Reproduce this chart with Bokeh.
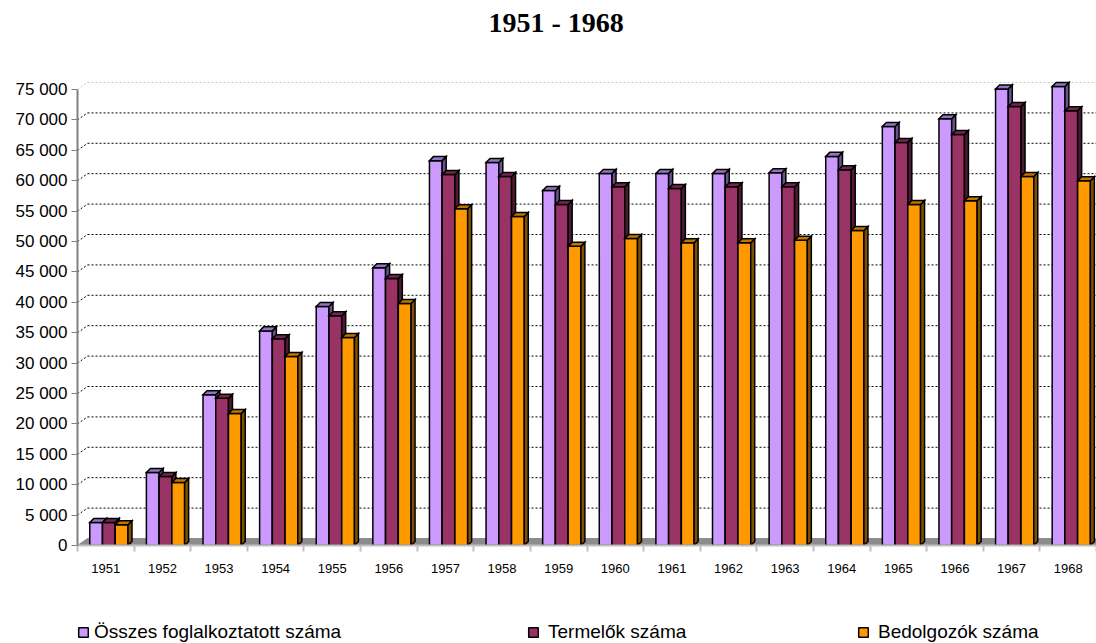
from bokeh.plotting import figure
from bokeh.models import Range1d, FixedTicker, Legend, LegendItem
from bokeh.layouts import column
from bokeh.embed import file_html
from bokeh.resources import INLINE

# ---------------- data ----------------
years = ["1951", "1952", "1953", "1954", "1955", "1956", "1957", "1958", "1959",
         "1960", "1961", "1962", "1963", "1964", "1965", "1966", "1967", "1968"]
osszes = [3800, 12000, 24800, 35300, 39300, 45700, 63300, 63000, 58400,
          61200, 61200, 61200, 61300, 64000, 68900, 70200, 75100, 75500]
termelok = [3800, 11350, 24200, 34000, 37800, 43900, 61000, 60700, 56100,
            59000, 58700, 59000, 59000, 61800, 66300, 67600, 72200, 71500]
bedolgozok = [3400, 10350, 21700, 31100, 34200, 39800, 55400, 54100, 49200,
              50500, 49800, 49800, 50200, 51800, 56100, 56700, 60700, 60000]
series_names = ["Összes foglalkoztatott száma", "Termelők száma", "Bedolgozók száma"]
y_ticks = [0, 5000, 10000, 15000, 20000, 25000, 30000, 35000, 40000,
           45000, 50000, 55000, 60000, 65000, 70000, 75000]
y_tick_labels = ["0", "5 000", "10 000", "15 000", "20 000", "25 000", "30 000",
                 "35 000", "40 000", "45 000", "50 000", "55 000", "60 000",
                 "65 000", "70 000", "75 000"]
title_text = "1951 - 1968"

# ---------------- style ----------------
front_colors = ["#CC99FF", "#993366", "#FF9900"]
side_colors = ["#66528F", "#4D1A33", "#805000"]
top_colors = ["#8F76BF", "#73264D", "#BF7300"]
bar_offsets = [0.217, 0.442, 0.667]
bar_w = 0.225
dxb, dyb = 0.0707, 660      # bar depth (data units)
dxw, dyw = 0.177, 1150      # back wall depth (data units)
n = len(years)
all_series = [osszes, termelok, bedolgozok]

# ---------------- title strip ----------------
tt = figure(width=1096, height=45, x_range=Range1d(0, n), y_range=Range1d(0, 1),
            output_backend="svg", toolbar_location=None,
            x_axis_location=None, y_axis_location=None,
            min_border_left=0, min_border_right=0, min_border_top=0, min_border_bottom=0)
tt.xgrid.visible = False
tt.ygrid.visible = False
tt.outline_line_color = None
tt.title.text = title_text
tt.title.align = "left"
tt.title.offset = 411
tt.title.standoff = 9
tt.title.text_font = "Liberation Serif"
tt.title.text_font_size = "28px"
tt.title.text_font_style = "bold"
tt.title.text_color = "black"

# ---------------- main chart ----------------
p = figure(width=1096, height=565, x_range=Range1d(0, n), y_range=Range1d(0, 76480),
           output_backend="svg", toolbar_location=None,
           min_border_left=77, min_border_right=0, min_border_top=35, min_border_bottom=65)
p.xgrid.visible = False
p.ygrid.visible = False
p.outline_line_color = None
p.background_fill_color = "white"

# back-wall grid lines (from tick values)
for v in y_ticks[1:]:
    col = "#C8C8C8" if v == y_ticks[-1] else "black"
    p.segment(x0=[dxw], y0=[v + dyw], x1=[n], y1=[v + dyw], line_color=col,
              line_width=1, line_dash="2 2")
    p.segment(x0=[0], y0=[v], x1=[dxw], y1=[v + dyw], line_color=col,
              line_width=1, line_dash="2 2")

# floor
p.patch(x=[0, n, n + dxw, dxw], y=[0, 0, dyw, dyw], fill_color="#8C8C8C",
        line_color="#8C8C8C")

# bars with pseudo-3D faces
for k, vals in enumerate(all_series):
    lefts = [i + bar_offsets[k] for i in range(n)]
    rights = [l + bar_w for l in lefts]
    p.quad(left=lefts, right=rights, bottom=[0] * n, top=vals,
           fill_color=front_colors[k], line_color="black", line_width=1.5,
           line_join="miter")
    side_xs = [[rr, rr + dxb, rr + dxb, rr] for rr in rights]
    side_ys = [[0, dyb, v + dyb, v] for v in vals]
    p.patches(xs=side_xs, ys=side_ys, fill_color=side_colors[k], line_color="black",
              line_width=1.5, line_join="miter")
    top_xs = [[l, rr, rr + dxb, l + dxb] for l, rr in zip(lefts, rights)]
    top_ys = [[v, v, v + dyb, v + dyb] for v in vals]
    p.patches(xs=top_xs, ys=top_ys, fill_color=top_colors[k], line_color="black",
              line_width=1.5, line_join="miter")

# y axis
ya = p.yaxis[0]
ya.ticker = FixedTicker(ticks=y_ticks)
ya.major_label_overrides = {v: s for v, s in zip(y_ticks, y_tick_labels)}
ya.bounds = (0, 75000)
ya.axis_line_color = "#808080"
ya.axis_line_width = 2
ya.major_tick_line_color = "#808080"
ya.major_tick_out = 6
ya.major_tick_in = 0
ya.minor_tick_line_color = None
ya.major_label_standoff = 4
ya.major_label_text_font = "Liberation Sans"
ya.major_label_text_font_size = "17px"
ya.major_label_text_color = "black"

# x axis
xa = p.xaxis[0]
centers = [i + 0.5 for i in range(n)]
xa.ticker = FixedTicker(ticks=centers, minor_ticks=list(range(n + 1)))
xa.major_label_overrides = {c: y for c, y in zip(centers, years)}
xa.axis_line_color = "#C0C0C0"
xa.axis_line_width = 2
xa.major_tick_line_color = None
xa.major_tick_out = 0
xa.major_tick_in = 0
xa.minor_tick_line_color = "#C0C0C0"
xa.minor_tick_line_width = 2
xa.minor_tick_out = 6
xa.minor_tick_in = 0
xa.major_label_standoff = 12
xa.major_label_text_font = "Liberation Sans"
xa.major_label_text_font_size = "13px"
xa.major_label_text_color = "black"

# ---------------- legend strip ----------------
lg = figure(width=1096, height=33, x_range=Range1d(0, n), y_range=Range1d(0, 1),
            output_backend="svg", toolbar_location=None,
            x_axis_location=None, y_axis_location=None,
            min_border_left=0, min_border_right=0, min_border_top=0, min_border_bottom=0)
lg.xgrid.visible = False
lg.ygrid.visible = False
lg.outline_line_color = None
legend_x = [0, 450, 780]
legend_standoff = [5, 9, 9]
for k, vals in enumerate(all_series):
    lefts = [i + bar_offsets[k] for i in range(n)]
    r = lg.quad(left=lefts, right=[l + bar_w for l in lefts], bottom=[0] * n, top=vals,
                fill_color=front_colors[k], line_color="black", line_width=1.5,
                visible=False)
    leg = Legend(items=[LegendItem(label=series_names[k], renderers=[r])],
                 location=(legend_x[k], 0), orientation="horizontal",
                 border_line_color=None, background_fill_alpha=0,
                 padding=0, margin=0, glyph_width=12, glyph_height=12,
                 label_standoff=legend_standoff[k], label_height=20,
                 label_text_font="Liberation Sans", label_text_font_size="19px",
                 label_text_color="black")
    lg.add_layout(leg, "center")

open("out.html", "w").write(file_html(column(tt, p, lg, spacing=0), INLINE))
